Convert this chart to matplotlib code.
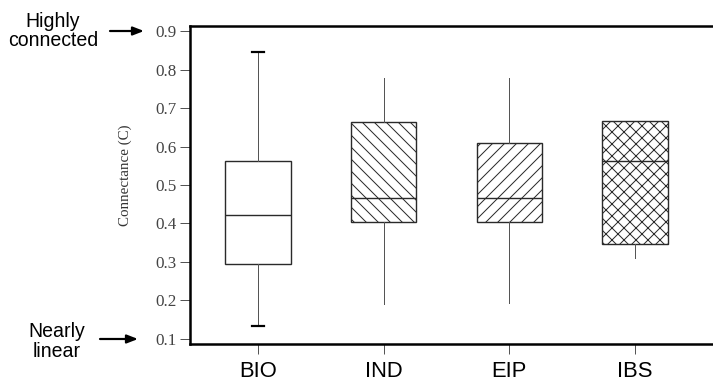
import matplotlib
matplotlib.use("Agg")
import matplotlib.pyplot as plt
from matplotlib.transforms import blended_transform_factory

categories = ["BIO", "IND", "EIP", "IBS"]
whis_hi = [0.845, 0.778, 0.778, 0.666]
q3 = [0.562, 0.664, 0.610, 0.666]
medians = [0.422, 0.467, 0.467, 0.563]
q1 = [0.295, 0.405, 0.405, 0.347]
whis_lo = [0.134, 0.190, 0.193, 0.310]
hatches = ["", "\\\\", "//", "xx"]
y_ticks = [0.1, 0.2, 0.3, 0.4, 0.5, 0.6, 0.7, 0.8, 0.9]

plt.rcParams["hatch.color"] = "#333333"
plt.rcParams["hatch.linewidth"] = 1.0

DPI = 72
fig = plt.figure(figsize=(713 / DPI, 384 / DPI), dpi=DPI)
ax = fig.add_axes([190 / 713, 40 / 384, 1 - 190 / 713, 318 / 384])

stats = []
for i, c in enumerate(categories):
    stats.append(dict(label=c, med=medians[i], q1=q1[i], q3=q3[i],
                      whislo=whis_lo[i], whishi=whis_hi[i], fliers=[]))

positions = list(range(1, len(categories) + 1))
bp = ax.bxp(stats, positions=positions, widths=0.52, patch_artist=True,
            showfliers=False, capwidths=[0.1, 0, 0, 0],
            boxprops=dict(facecolor="white", edgecolor="#2a2a2a", linewidth=1.4),
            medianprops=dict(color="#2a2a2a", linewidth=1.4),
            whiskerprops=dict(color="#555555", linewidth=1.0),
            capprops=dict(color="black", linewidth=2.2))
for patch, h in zip(bp["boxes"], hatches):
    patch.set_hatch(h)
for i, cap in enumerate(bp["caps"]):
    if i // 2 != 0:
        cap.set_visible(False)

ax.set_xlim(0.459, 4.62)
ax.set_ylim(0.087, 0.913)
ax.set_yticks(y_ticks)
ax.set_yticklabels([f"{v:.1f}" for v in y_ticks], family="Liberation Serif",
                   fontsize=17, color="#444444")
ax.set_xticks(positions)
ax.set_xticklabels(categories, family="Liberation Sans", fontsize=22, color="black")
ax.tick_params(axis="y", length=10, width=1, color="#555555", pad=3)
ax.tick_params(axis="x", length=10, width=1, color="#555555", pad=7)

for s in ["left", "top", "bottom"]:
    ax.spines[s].set_linewidth(2.5)
    ax.spines[s].set_color("black")
ax.spines["right"].set_visible(False)

ax.set_ylabel("Connectance (C)", family="Liberation Serif", fontsize=15, color="#333333")
ax.yaxis.set_label_coords(-0.11, 0.53)

tr = blended_transform_factory(fig.transFigure, ax.transData)
arrow = dict(arrowstyle="-|>,head_length=0.9,head_width=0.35", color="black", lw=2.2,
             shrinkA=0, shrinkB=0)
ax.annotate("", xy=(144 / 713, 0.9), xycoords=tr, xytext=(110 / 713, 0.9),
            textcoords=tr, arrowprops=arrow, annotation_clip=False)
ax.annotate("", xy=(138 / 713, 0.1), xycoords=tr, xytext=(100 / 713, 0.1),
            textcoords=tr, arrowprops=arrow, annotation_clip=False)
ax.text(53 / 713, 0.9, "Highly\nconnected", transform=tr, ha="center", va="center",
        family="Liberation Sans", fontsize=19.5, linespacing=1.05)
ax.text(57 / 713, 0.093, "Nearly\nlinear", transform=tr, ha="center", va="center",
        family="Liberation Sans", fontsize=19.5, linespacing=1.05)

fig.savefig("out.png", dpi=DPI)
